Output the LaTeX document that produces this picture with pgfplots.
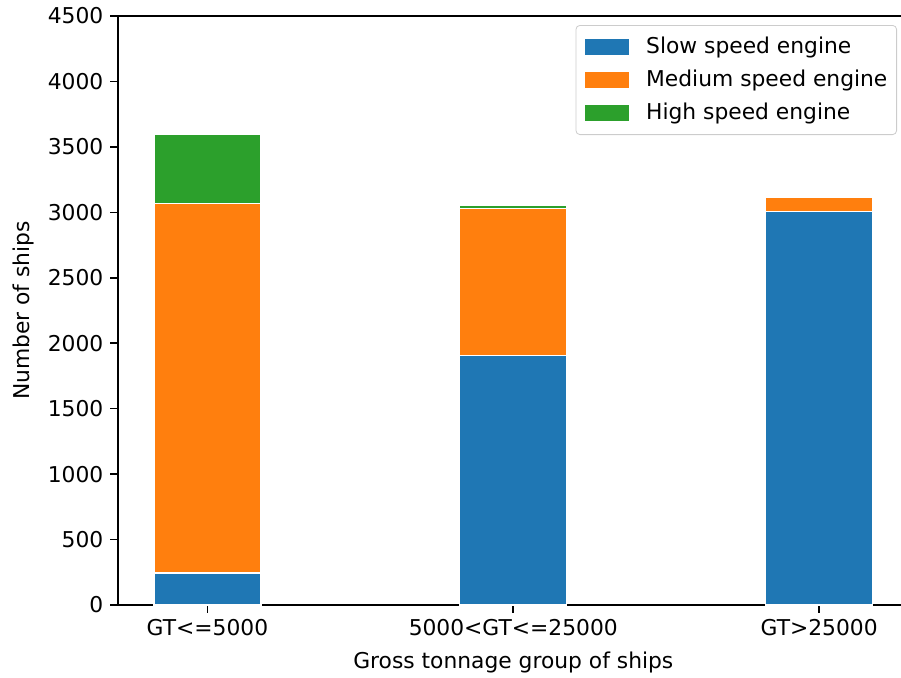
\documentclass[border=0pt]{standalone}
\usepackage{fontspec}
\setmainfont{DejaVu Sans}
\usepackage{pgfplots}
\pgfplotsset{compat=1.18}
\definecolor{c0}{HTML}{1F77B4}
\definecolor{c1}{HTML}{FF7F0E}
\definecolor{c2}{HTML}{2CA02C}

\pgfplotsset{
  mplpatch/.style={legend image code/.code={
      \fill[##1,draw=none,sharp corners] (0pt,-3.8pt) rectangle (21.8pt,3.8pt);}},
}

\begin{document}
\begin{tikzpicture}
\begin{axis}[
  at={(0,0)}, anchor=south west,
  scale only axis, width=395.3pt, height=294.5pt,
  xmin=-0.2925, xmax=2.2925, ymin=0, ymax=4500,
  ybar stacked, bar width=0.35,
  xtick={0,1,2},
  xticklabels={GT<=5000, 5000<GT<=25000, GT>25000},
  ytick={0,500,...,4500},
  tick align=outside, major tick length=3.8pt,
  xtick pos=left, ytick pos=left,
  axis line style={line width=0.8pt},
  every tick/.style={black, line width=0.8pt},
  font=\fontsize{10.9}{13}\selectfont,
  /pgf/number format/assume math mode=true,
  /pgf/number format/1000 sep={},
  xlabel={Gross tonnage group of ships},
  ylabel={Number of ships},
  xlabel style={at={(axis description cs:0.5,-0.0798)}, anchor=north, inner sep=0pt},
  ylabel style={at={(axis description cs:-0.1328,0.5)}, anchor=north, inner sep=0pt},
  legend cell align=left,
  legend style={at={(axis description cs:1,1)}, anchor=north east,
    xshift=-5.8pt, yshift=-4.5pt, draw=black!20, rounded corners=2pt,
    font=\fontsize{10.9}{13}\selectfont, inner xsep=4.6pt, inner ysep=5.5pt,
    row sep=5.9pt,
    nodes={inner sep=0pt, text height=8.3pt, text depth=2.3pt},
    /tikz/every odd column/.append style={column sep=8.7pt}},
]
\addplot[fill=c0, draw=white, line width=0.6pt, mplpatch] coordinates {(0,245) (1,1908) (2,3005)};
\addlegendentry{Slow speed engine}
\addplot[fill=c1, draw=white, line width=0.6pt, mplpatch] coordinates {(0,2820) (1,1123) (2,107)};
\addlegendentry{Medium speed engine}
\addplot[fill=c2, draw=white, line width=0.6pt, mplpatch] coordinates {(0,527) (1,20)};
\addlegendentry{High speed engine}
\end{axis}
\pgfresetboundingbox
\path[use as bounding box] (-59pt,-36pt) rectangle (391.5pt,302.5pt);
\end{tikzpicture}
\end{document}
